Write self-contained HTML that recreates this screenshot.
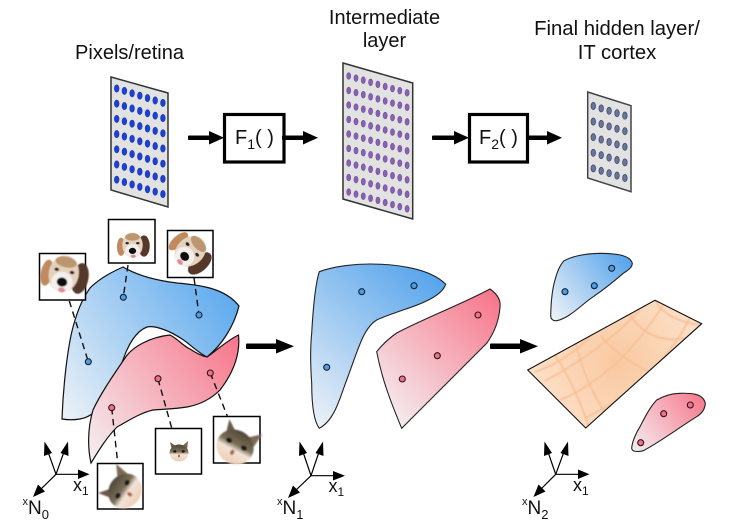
<!DOCTYPE html>
<html lang="en">
<head>
<meta charset="utf-8">
<title>Manifold untangling diagram</title>
<style>
html,body{margin:0;padding:0;background:#fff;width:737px;height:525px;overflow:hidden}
svg{display:block;font-family:"Liberation Sans",sans-serif}
text{fill:#111}
</style>
</head>
<body>
<svg id="fig" xmlns="http://www.w3.org/2000/svg" width="737" height="525" viewBox="0 0 737 525">
<defs>
  <linearGradient id="b1" gradientUnits="userSpaceOnUse" x1="240" y1="295" x2="60" y2="420"><stop offset="0" stop-color="#5aa8ee"/><stop offset="1" stop-color="#eff3f7"/></linearGradient>
  <linearGradient id="r1" gradientUnits="userSpaceOnUse" x1="240" y1="345" x2="92" y2="460"><stop offset="0" stop-color="#f7788c"/><stop offset="1" stop-color="#f4eef0"/></linearGradient>
  <linearGradient id="b2" gradientUnits="userSpaceOnUse" x1="445" y1="275" x2="315" y2="430"><stop offset="0" stop-color="#52a2ec"/><stop offset="1" stop-color="#f0f3f7"/></linearGradient>
  <linearGradient id="r2" gradientUnits="userSpaceOnUse" x1="498" y1="300" x2="385" y2="415"><stop offset="0" stop-color="#f7788c"/><stop offset="1" stop-color="#f4eef0"/></linearGradient>
  <linearGradient id="b3" gradientUnits="userSpaceOnUse" x1="632" y1="260" x2="552" y2="320"><stop offset="0" stop-color="#52a2ec"/><stop offset="1" stop-color="#f0f3f7"/></linearGradient>
  <linearGradient id="r3" gradientUnits="userSpaceOnUse" x1="705" y1="397" x2="632" y2="450"><stop offset="0" stop-color="#f7788c"/><stop offset="1" stop-color="#f4eef0"/></linearGradient>
  <radialGradient id="og" gradientUnits="userSpaceOnUse" cx="618" cy="362" r="85"><stop offset="0" stop-color="#f9c8a0"/><stop offset="1" stop-color="#fde0c8"/></radialGradient>
  <linearGradient id="catg" x1="0" y1="0" x2="0" y2="1"><stop offset="0" stop-color="#4e4638"/><stop offset=".42" stop-color="#7c6e58"/><stop offset=".6" stop-color="#f2e4d8"/><stop offset="1" stop-color="#efcdb4"/></linearGradient>
  <clipPath id="pc"><polygon points="655,300.3 701.7,323.7 585.7,428 527.7,370"/></clipPath>
  <filter id="soft" x="-10%" y="-10%" width="120%" height="120%"><feGaussianBlur stdDeviation="0.7"/></filter>
  <filter id="face" x="-10%" y="-10%" width="120%" height="120%"><feGaussianBlur stdDeviation="0.35"/></filter>
  <g id="dog" filter="url(#face)">
    <ellipse cx="14" cy="0" rx="7" ry="13" fill="#54392c"/>
    <ellipse cx="-14" cy="1" rx="5" ry="11" fill="#c08a60"/>
    <ellipse cx="0" cy="-1" rx="12.5" ry="15.5" fill="#e4d2bd"/>
    <ellipse cx="0" cy="-11" rx="9" ry="4.5" fill="#bb9670"/>
    <ellipse cx="0" cy="6" rx="9" ry="8.5" fill="#f2efec"/>
    <ellipse cx="-6.5" cy="-3.5" rx="2" ry="1.4" fill="#2b2320"/>
    <ellipse cx="6.5" cy="-3.5" rx="2" ry="1.4" fill="#2b2320"/>
    <ellipse cx="0" cy="6" rx="4.4" ry="3.8" fill="#111"/>
    <ellipse cx="1" cy="12.5" rx="3" ry="2" fill="#e08a98"/>
  </g>
  <g id="cat" filter="url(#face)">
    <polygon points="-9,-11 -7,-3 -2,-6" fill="#6a5a48"/>
    <polygon points="9,-12 2,-6 8,-2" fill="#7d6a56"/>
    <ellipse cx="0" cy="0" rx="9.5" ry="8.5" fill="url(#catg)"/>
    <ellipse cx="-4.2" cy="-1.6" rx="1.6" ry="1.3" fill="#161c12"/>
    <ellipse cx="4.2" cy="-1.6" rx="1.6" ry="1.3" fill="#161c12"/>
    <ellipse cx="0" cy="3" rx="1" ry="1.4" fill="#a66048"/>
  </g>
</defs>

<!-- top labels -->
<text x="129.5" y="59" font-size="20" text-anchor="middle">Pixels/retina</text>
<text x="384.5" y="24" font-size="20" text-anchor="middle">Intermediate</text>
<text x="384.5" y="47" font-size="20" text-anchor="middle">layer</text>
<text x="617" y="35" font-size="20.3" text-anchor="middle">Final hidden layer/</text>
<text x="617" y="59" font-size="20.3" text-anchor="middle">IT cortex</text>

<!-- layer panels -->
<polygon points="111,77 168,93 168,207 111,190" fill="#e2e2e2" stroke="#333" stroke-width="1.5"/>
<polygon points="343,63 412.7,83 412.7,219 343,199" fill="#e2e2e2" stroke="#333" stroke-width="1.5"/>
<polygon points="587.7,92 631,105.7 631,191.7 587.7,178" fill="#e2e2e2" stroke="#444" stroke-width="1.5"/>
<g id="dots"></g>

<!-- function boxes -->
<g>
  <rect x="224.5" y="114.5" width="59.5" height="47.5" fill="#fff" stroke="#000" stroke-width="3.2"/>
  <text x="235" y="144" font-size="20">F<tspan font-size="14" dy="5">1</tspan><tspan dy="-5">( )</tspan></text>
</g>
<g>
  <rect x="469.5" y="114.5" width="58" height="47.5" fill="#fff" stroke="#000" stroke-width="3.2"/>
  <text x="479" y="144" font-size="20">F<tspan font-size="14" dy="5">2</tspan><tspan dy="-5">( )</tspan></text>
</g>

<!-- thick arrows -->
<g fill="#000" stroke="none">
  <g><rect x="188" y="135.5" width="25" height="4.5" rx="1"/><polygon points="209,131 224,137.7 209,144.5"/></g>
  <g><rect x="282" y="135.5" width="24" height="4.5" rx="1"/><polygon points="303,131 318,137.7 303,144.5"/></g>
  <g><rect x="432" y="135.5" width="25" height="4.5" rx="1"/><polygon points="454,131 469,137.7 454,144.5"/></g>
  <g><rect x="526" y="135.5" width="25" height="4.5" rx="1"/><polygon points="547,131 562,137.7 547,144.5"/></g>
  <g><rect x="246" y="343.5" width="34" height="5.5" rx="1"/><polygon points="276,339 294,346.2 276,353.5"/></g>
  <g><rect x="490" y="343.5" width="34" height="5.5" rx="1"/><polygon points="520,339 538,346.2 520,353.5"/></g>
</g>

<!-- left manifolds -->
<path d="M123,267 C140,277 160,281 177,283 C200,285 225,288 239,306 C234,326 222,345 207,357 C197,352 190,344 182,339 C170,331 155,325 147,327 C136,331 128,345 123,360 C118,375 112,390 107,397 C100,408 92,417 80,419 C74,420 68,420 62,419 C63,390 67,350 73,327 C79,305 85,295 90,288 C100,278 112,272 123,267Z" fill="url(#b1)" stroke="#111" stroke-width="1.2"/>
<path d="M91,463 C88,450 87,430 93,410 C100,395 110,380 125,358 C132,347 150,337 170,335 C178,339 183,346 190,349 C196,353 202,356 207,357 C217,350 228,340 238.5,335 C240,350 237,368 220,390 C210,400 198,405 187,407 C175,409 165,409 153,410 C140,413 128,421 117,427 C107,437 99,450 91,463Z" fill="url(#r1)" stroke="#111" stroke-width="1.2"/>

<!-- middle manifolds -->
<path d="M319.3,271.7 C335,266 355,264 370,264 C395,264 430,268 445.7,284.3 C442,295 425,303 403,310 C395,313 385,316 376.7,320 C370,324 366,331 363,337 C357,350 352,366 346.7,380 C340,397 335,420 319.3,428.3 C313,420 311.7,400 311.7,383 C310,360 310.5,345 311.7,333 C313,310 315,285 319.3,271.7Z" fill="url(#b2)" stroke="#222" stroke-width="1.1"/>
<path d="M490,289 C497,294 501,300 500,307 C499,322 494,333 486.7,343.3 C470,360 435,395 401.7,428.3 C392,405 382,380 376.7,351.7 C382,345 388,339 396.7,333 C425,318 460,305 490,289Z" fill="url(#r2)" stroke="#222" stroke-width="1.1"/>

<!-- right manifolds -->
<path d="M564,260.7 C575,255 590,253.5 600,253.3 C612,253.5 630,254 632.3,263.3 C632,268 628,270 623.3,273.3 C612,283 603,290 593.3,296.7 C582,304 570,318 556.7,320.7 C552,321 550.5,318 550.7,315 C551,303 552,290 555,280 C557,272 560,265 564,260.7Z" fill="url(#b3)" stroke="#222" stroke-width="1.1"/>
<polygon points="655,300.3 701.7,323.7 585.7,428 527.7,370" fill="url(#og)"/>
<g clip-path="url(#pc)" fill="none" stroke="#f6bf94" stroke-width="1.6" filter="url(#soft)">
  <path d="M545,381 C580,362 612,340 640,310"/>
  <path d="M560,400 Q620,375 665,302"/>
  <path d="M585,418 Q655,385 690,318"/>
  <path d="M535,372 Q575,358 600,325"/>
  <path d="M575,340 Q585,385 610,420"/>
  <path d="M600,335 Q620,360 660,376"/>
  <path d="M555,355 Q575,385 590,430"/>
  <path d="M630,315 Q650,345 685,338"/>
  <path d="M655,300 Q665,320 700,325"/>
</g>
<polygon points="655,300.3 701.7,323.7 585.7,428 527.7,370" fill="none" stroke="#111" stroke-width="1.1"/>
<path d="M656.7,400 C665,395 672,393.5 680,393.3 C690,393 703,393 705.3,403.3 C705,410 701,414 696.7,416.7 C680,427 660,442 643.3,450.7 C638,452 632,452 631.7,448.3 C632,442 636,433 640,426.7 C645,417 650,407 656.7,400Z" fill="url(#r3)" stroke="#222" stroke-width="1.1"/>

<!-- dashes -->
<g stroke="#111" stroke-width="1.4" stroke-dasharray="6.5 4.5" fill="none">
  <line x1="69.3" y1="301" x2="88.3" y2="361.7"/>
  <line x1="128" y1="265" x2="123.3" y2="297"/>
  <line x1="194" y1="278" x2="199" y2="315"/>
  <line x1="111.7" y1="408" x2="117.3" y2="459"/>
  <line x1="158" y1="379" x2="171.7" y2="428"/>
  <line x1="210.3" y1="373" x2="227.3" y2="416"/>
</g>

<!-- points -->
<g stroke="#15212c" stroke-width="1.1" fill="#4a9ee6">
  <circle cx="88.3" cy="361.7" r="3"/>
  <circle cx="123.3" cy="297.3" r="3"/>
  <circle cx="199" cy="315" r="3"/>
  <circle cx="361.7" cy="291.7" r="3"/>
  <circle cx="414" cy="285.7" r="3"/>
  <circle cx="326.7" cy="367.3" r="3"/>
  <circle cx="611.7" cy="268.3" r="3"/>
  <circle cx="594.3" cy="285.7" r="3"/>
  <circle cx="565" cy="291.7" r="3"/>
</g>
<g stroke="#2c1518" stroke-width="1.1" fill="#f0728a">
  <circle cx="111.7" cy="407.7" r="3"/>
  <circle cx="158" cy="378.7" r="3"/>
  <circle cx="210.3" cy="373" r="3"/>
  <circle cx="478" cy="315" r="3"/>
  <circle cx="437.3" cy="355.7" r="3"/>
  <circle cx="402.3" cy="379" r="3"/>
  <circle cx="690.3" cy="405" r="3"/>
  <circle cx="663.7" cy="413.7" r="3"/>
  <circle cx="640.7" cy="442.7" r="3"/>
</g>

<!-- image boxes -->
<g fill="#fff" stroke="#000" stroke-width="1.5">
  <rect x="39.5" y="253.5" width="46" height="46.5"/>
  <rect x="108.5" y="219.5" width="46.5" height="43.5"/>
  <rect x="167.5" y="230.5" width="45.5" height="47"/>
  <rect x="97.5" y="463.5" width="45.5" height="45.5"/>
  <rect x="155.5" y="428.5" width="46" height="45.5"/>
  <rect x="213.5" y="416.5" width="46.5" height="46.5"/>
</g>
<use href="#dog" transform="translate(63.5,275) rotate(12) scale(1.2)"/>
<use href="#dog" transform="translate(132.5,246) scale(.82)"/>
<use href="#dog" transform="translate(189.5,252) rotate(48) scale(1.1)"/>
<use href="#cat" transform="translate(125,491) rotate(-55) scale(1.9)"/>
<use href="#cat" transform="translate(179,453) scale(1)"/>
<use href="#cat" transform="translate(235,447) rotate(28) scale(2)"/>

<!-- axes -->
<g id="axes-0" stroke="#000" stroke-width="1.2" fill="#000">
  <line x1="56" y1="474.3" x2="80" y2="474.3"/><polygon stroke="none" points="78,469.5 89.5,474.3 78,479"/>
  <line x1="56" y1="474.3" x2="47" y2="449"/><polygon stroke="none" points="44.5,441.5 52,453 44,456"/>
  <line x1="56" y1="474.3" x2="65" y2="449"/><polygon stroke="none" points="68,441.5 68.5,456 60.5,453"/>
  <line x1="56" y1="474.3" x2="40" y2="490"/><polygon stroke="none" points="33,497 38,484.5 45,491.5"/>
</g>
<g id="axes-1" stroke="#000" stroke-width="1.2" fill="#000">
  <line x1="311" y1="475.7" x2="335" y2="475.7"/><polygon stroke="none" points="333,471 345,475.7 333,480.5"/>
  <line x1="311" y1="475.7" x2="302" y2="449"/><polygon stroke="none" points="299.5,441.5 307,453 299,456"/>
  <line x1="311" y1="475.7" x2="320" y2="449"/><polygon stroke="none" points="323,441.5 323.5,456 315.5,453"/>
  <line x1="311" y1="475.7" x2="295" y2="491"/><polygon stroke="none" points="288,498 293,485.5 300,492.5"/>
</g>
<g id="axes-2" stroke="#000" stroke-width="1.2" fill="#000">
  <line x1="555.7" y1="474.3" x2="580" y2="474.3"/><polygon stroke="none" points="578,469.5 589.5,474.3 578,479"/>
  <line x1="555.7" y1="474.3" x2="547" y2="449"/><polygon stroke="none" points="544.5,441.5 552,453 544,456"/>
  <line x1="555.7" y1="474.3" x2="565" y2="449"/><polygon stroke="none" points="568,441.5 568.5,456 560.5,453"/>
  <line x1="555.7" y1="474.3" x2="540" y2="490"/><polygon stroke="none" points="533.5,497 538.5,484.5 545.5,491.5"/>
</g>

<text x="73" y="491" font-size="18">x<tspan font-size="12" dy="4">1</tspan></text>
<text x="328.5" y="492" font-size="18">x<tspan font-size="12" dy="4">1</tspan></text>
<text x="573" y="491" font-size="18">x<tspan font-size="12" dy="4">1</tspan></text>
<text x="22.5" y="505" font-size="11">x<tspan font-size="19" dy="9">N</tspan><tspan font-size="13" dy="5">0</tspan></text>
<text x="277" y="505" font-size="11">x<tspan font-size="19" dy="9">N</tspan><tspan font-size="13" dy="5">1</tspan></text>
<text x="522" y="505" font-size="11">x<tspan font-size="19" dy="9">N</tspan><tspan font-size="13" dy="5">2</tspan></text>

<script>
var panelNames = ['pixels', 'intermediate', 'final'];
var panelCols = [7, 9, 5];
var panelRows = [7, 9, 5];
var panelOrigX = [116.7, 348.7, 593.3];
var panelOrigY = [88.5, 76, 106];
var panelColDx = [7.7, 7.3, 7.9];
var panelColDy = [2.4, 2.1, 2.4];
var panelRowDy = [15.2, 14.5, 15.6];
var dotRx = [2.3, 2, 2.3];
var dotRy = [3.6, 3.3, 3.6];
var dotFill = ['#1b41d8', '#8d5cc4', '#66749f'];
var dotStroke = ['#1b3aa8', '#6b5a80', '#3e4660'];
var holder = document.getElementById('dots');
var ns = 'http://www.w3.org/2000/svg';
for (var p = 0; p < panelNames.length; p++) {
  for (var r = 0; r < panelRows[p]; r++) {
    for (var c = 0; c < panelCols[p]; c++) {
      var el = document.createElementNS(ns, 'ellipse');
      
      
      el.setAttribute('cx', panelOrigX[p] + c * panelColDx[p]);
      el.setAttribute('cy', panelOrigY[p] + c * panelColDy[p] + r * panelRowDy[p]);
      el.setAttribute('rx', dotRx[p]);
      el.setAttribute('ry', dotRy[p]);
      el.setAttribute('fill', dotFill[p]);
      el.setAttribute('stroke', dotStroke[p]);
      el.setAttribute('stroke-width', 0.7);
      holder.appendChild(el);
    }
  }
}
</script>
</svg>
</body>
</html>
